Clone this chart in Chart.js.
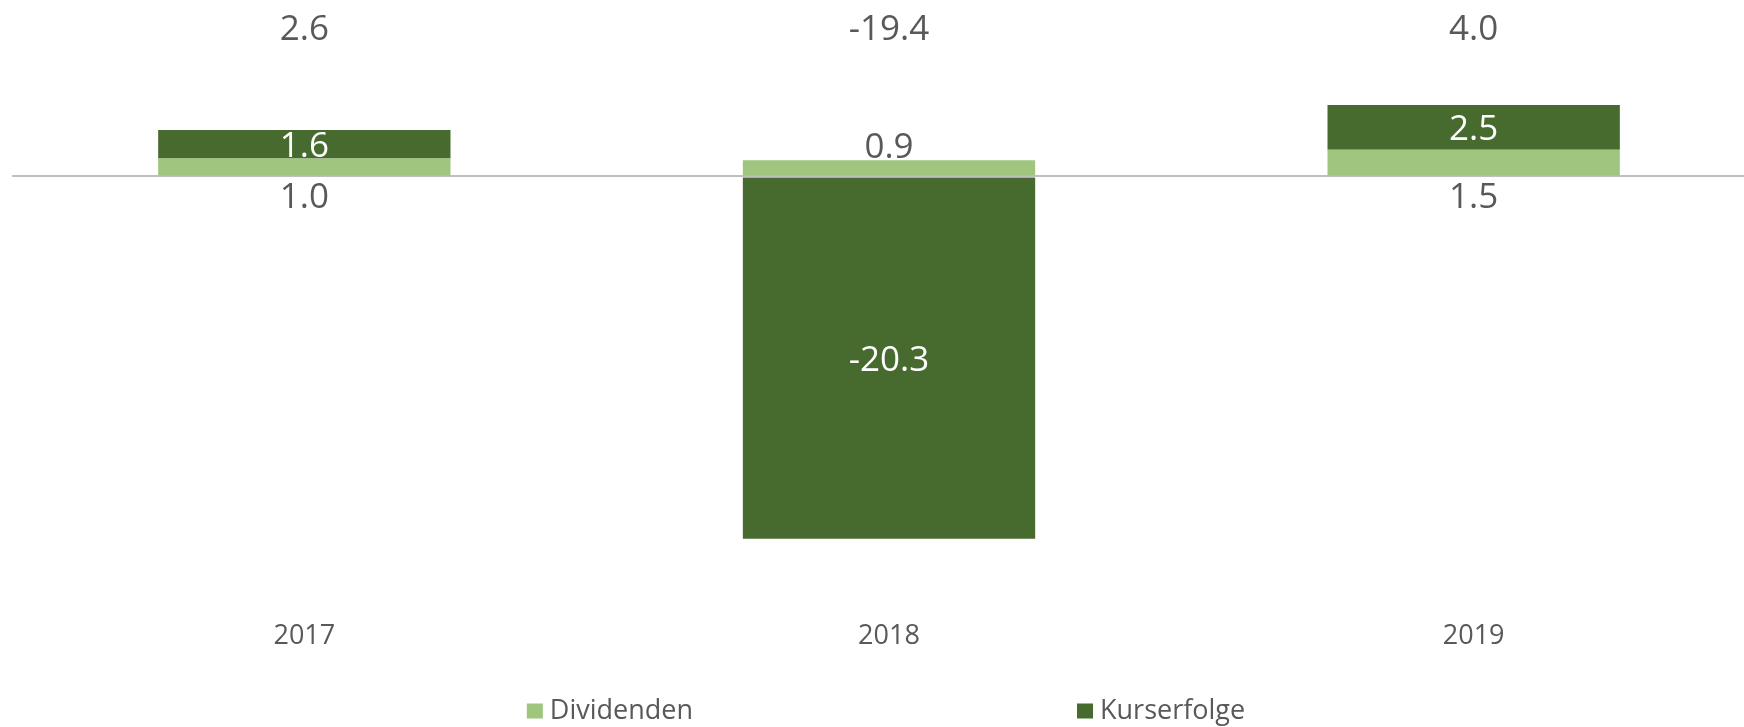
<!DOCTYPE html>
<html>
<head>
<meta charset="utf-8">
<script src="https://cdn.jsdelivr.net/npm/chart.js@4.4.1/dist/chart.umd.min.js"></script>
<style>
  html, body { margin: 0; padding: 0; background: #fff; overflow: hidden; }
  #wrap { width: 1744px; height: 727px; overflow: hidden; }
</style>
</head>
<body>
<div id="wrap"><canvas id="chart" width="1766" height="727"></canvas></div>
<script>
const years = ['2017', '2018', '2019'];
const dividenden = [1.0, 0.9, 1.5];
const kurserfolge = [1.6, -20.3, 2.5];
const totals = [2.6, -19.4, 4.0];
const seriesNames = ['Dividenden', 'Kurserfolge'];
const seriesColors = ['#9FC57E', '#476A2E'];

const FONT = "'Open Sans', sans-serif";
const TEXT = '#595959';

const fmt = v => v.toFixed(1);

// value labels: dividend next to the axis, price change inside, total on top
const valueLabels = {
  id: 'valueLabels',
  afterDraw(chart) {
    const ctx = chart.ctx;
    const area = chart.chartArea;
    const divMeta = chart.getDatasetMeta(0);
    const kursMeta = chart.getDatasetMeta(1);
    ctx.save();
    ctx.textAlign = 'center';
    ctx.textBaseline = 'middle';
    ctx.font = `35px ${FONT}`;
    years.forEach((year, i) => {
      const dBar = divMeta.data[i];
      const kBar = kursMeta.data[i];
      ctx.fillStyle = TEXT;
      if (kurserfolge[i] >= 0) {
        ctx.fillText(fmt(dividenden[i]), dBar.x, dBar.base + 23);
      } else {
        ctx.fillText(fmt(dividenden[i]), dBar.x, dBar.y - 12);
      }
      ctx.fillStyle = '#FFFFFF';
      ctx.fillText(fmt(kurserfolge[i]), kBar.x, (kBar.y + kBar.base) / 2 + 3);
      ctx.fillStyle = TEXT;
      ctx.fillText(fmt(totals[i]), kBar.x, area.top + 14);
    });
    ctx.restore();
  }
};

// legend along the bottom, items spread wide apart
const bottomLegend = {
  id: 'bottomLegend',
  afterDraw(chart) {
    const ctx = chart.ctx;
    const area = chart.chartArea;
    const boxW = 16, boxH = 15, textGap = 7, itemGap = 384;
    ctx.save();
    ctx.font = `27px ${FONT}`;
    ctx.textBaseline = 'middle';
    ctx.textAlign = 'left';
    const widths = seriesNames.map(n => boxW + textGap + ctx.measureText(n).width);
    const total = widths.reduce((a, b) => a + b, 0) + itemGap * (widths.length - 1);
    let x = (area.left + area.right) / 2 - total / 2 - 3;
    const y = chart.height - 16;
    seriesNames.forEach((name, i) => {
      ctx.fillStyle = seriesColors[i];
      ctx.fillRect(x, y - boxH / 2, boxW, boxH);
      ctx.fillStyle = TEXT;
      ctx.fillText(name, x + boxW + textGap, y);
      x += widths[i] + itemGap;
    });
    ctx.restore();
  }
};

Chart.defaults.font.family = FONT;

new Chart(document.getElementById('chart'), {
  type: 'bar',
  data: {
    labels: years,
    datasets: [
      { label: seriesNames[0], data: dividenden, backgroundColor: seriesColors[0] },
      { label: seriesNames[1], data: kurserfolge, backgroundColor: seriesColors[1] }
    ]
  },
  options: {
    responsive: false,
    animation: false,
    categoryPercentage: 1,
    barPercentage: 0.5,
    layout: { padding: { left: 12, right: 0, top: 15.8, bottom: 67 } },
    scales: {
      x: {
        stacked: true,
        grid: { display: false, drawTicks: false },
        border: { display: false },
        ticks: { color: TEXT, font: { size: 27 }, padding: 7 }
      },
      y: {
        stacked: true,
        min: -24.5,
        max: 9,
        z: 1,
        border: { display: false },
        ticks: { display: false, stepSize: 1 },
        grid: {
          drawTicks: false,
          lineWidth: 2,
          color: c => (c.tick && c.tick.value === 0 ? '#BFBFBF' : 'rgba(0,0,0,0)')
        }
      }
    },
    plugins: {
      legend: { display: false },
      tooltip: { enabled: false }
    }
  },
  plugins: [valueLabels, bottomLegend]
});
</script>
</body>
</html>
